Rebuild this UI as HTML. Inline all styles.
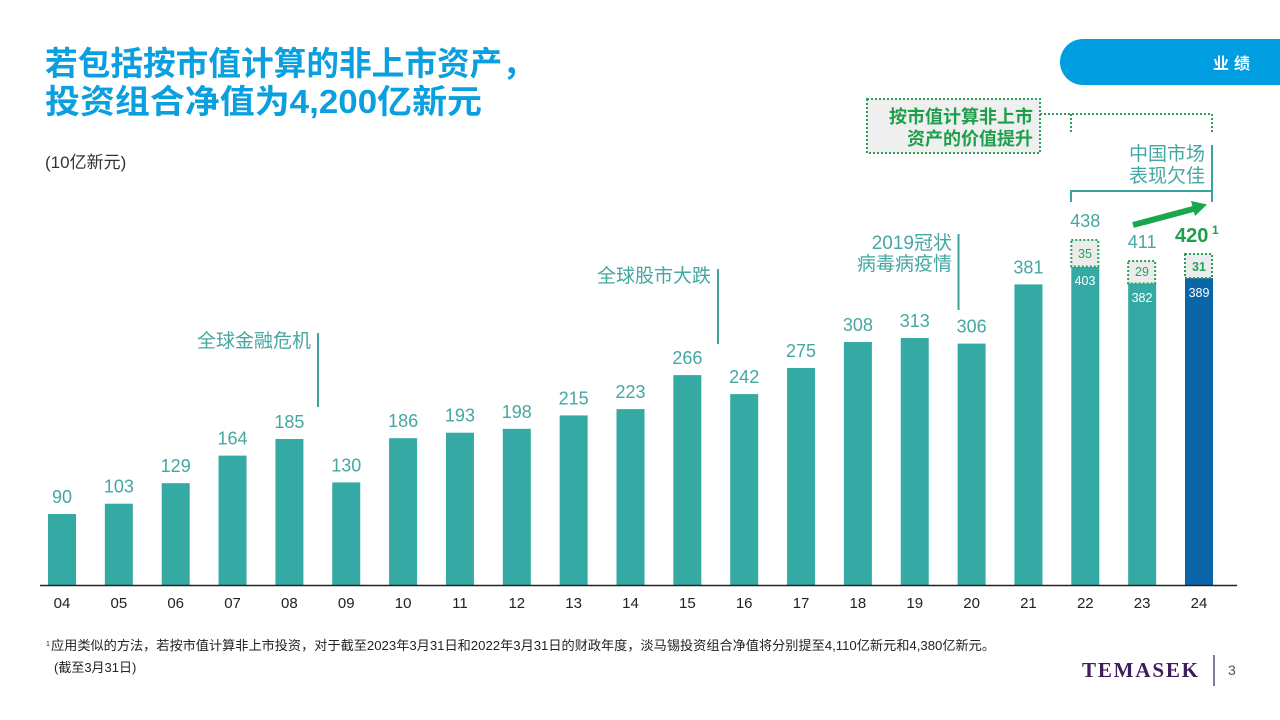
<!DOCTYPE html>
<html><head><meta charset="utf-8">
<style>
html,body{margin:0;padding:0;background:#fff;}
body{width:1280px;height:720px;overflow:hidden;position:relative;font-family:"Liberation Sans","Noto Sans CJK SC",sans-serif;}
svg{position:absolute;left:0;top:0;}
text{font-family:"Liberation Sans","Noto Sans CJK SC",sans-serif;}
.v{font-size:18px;fill:#45a7a1;text-anchor:middle;}
.yr{font-size:15px;fill:#222;text-anchor:middle;}
.an{font-size:19px;fill:#45a7a1;text-anchor:end;}
.in{font-size:12.5px;fill:#fff;text-anchor:middle;}
.bx{font-size:12.5px;fill:#2ea05c;text-anchor:middle;}
</style></head><body>
<svg width="1280" height="720" viewBox="0 0 1280 720" xmlns="http://www.w3.org/2000/svg">
<!-- title -->
<text x="45" y="75" font-size="33" font-weight="bold" fill="#0a9fdf" textLength="490" lengthAdjust="spacingAndGlyphs">若包括按市值计算的非上市资产，</text>
<text x="45" y="113" font-size="33" font-weight="bold" fill="#0a9fdf" textLength="437" lengthAdjust="spacingAndGlyphs">投资组合净值为4,200亿新元</text>
<text x="45" y="168" font-size="17" fill="#333">(10亿新元)</text>

<!-- badge -->
<path d="M1083,39 H1280 V85 H1083 A23,23 0 0 1 1083,39 Z" fill="#009de0"/>
<text x="1213" y="69" font-size="16" font-weight="bold" fill="#fff" textLength="37" lengthAdjust="spacing">业绩</text>

<!-- bars -->
<g fill="#35aaa5">
<rect x="48" y="514.0" width="28" height="71.0"/>
<rect x="104.85" y="503.7" width="28" height="81.3"/>
<rect x="161.7" y="483.2" width="28" height="101.8"/>
<rect x="218.55" y="455.6" width="28" height="129.4"/>
<rect x="275.4" y="439.0" width="28" height="146.0"/>
<rect x="332.25" y="482.4" width="28" height="102.6"/>
<rect x="389.1" y="438.2" width="28" height="146.8"/>
<rect x="445.95" y="432.7" width="28" height="152.3"/>
<rect x="502.8" y="428.8" width="28" height="156.2"/>
<rect x="559.65" y="415.4" width="28" height="169.6"/>
<rect x="616.5" y="409.1" width="28" height="175.9"/>
<rect x="673.35" y="375.1" width="28" height="209.9"/>
<rect x="730.2" y="394.1" width="28" height="190.9"/>
<rect x="787.05" y="368.0" width="28" height="217.0"/>
<rect x="843.9" y="342.0" width="28" height="243.0"/>
<rect x="900.75" y="338.0" width="28" height="247.0"/>
<rect x="957.6" y="343.6" width="28" height="241.4"/>
<rect x="1014.45" y="284.4" width="28" height="300.6"/>
<rect x="1071.3" y="267.0" width="28" height="318.0"/>
<rect x="1128.15" y="283.6" width="28" height="301.4"/>
</g>
<rect x="1185" y="278.1" width="28" height="306.9" fill="#0a66a8"/>

<!-- stacked dotted boxes -->
<g fill="#ececec" stroke="#2ea05c" stroke-width="2" stroke-dasharray="2,2">
<rect x="1071.3" y="240" width="27" height="26.5"/>
<rect x="1128.15" y="261" width="27" height="22.5"/>
<rect x="1185" y="254" width="27" height="24"/>
</g>
<text class="bx" x="1085" y="258">35</text>
<text class="bx" x="1142" y="276">29</text>
<text class="bx" x="1199" y="271" font-weight="bold">31</text>
<text class="in" x="1085" y="285">403</text>
<text class="in" x="1142" y="302">382</text>
<text class="in" x="1199" y="297">389</text>

<!-- axis -->
<line x1="40" y1="585.5" x2="1237" y2="585.5" stroke="#222" stroke-width="1.5"/>

<!-- value labels -->
<text class="v" x="62" y="503">90</text>
<text class="v" x="118.85" y="492.7">103</text>
<text class="v" x="175.7" y="472.2">129</text>
<text class="v" x="232.55" y="444.6">164</text>
<text class="v" x="289.4" y="428">185</text>
<text class="v" x="346.25" y="471.4">130</text>
<text class="v" x="403.1" y="427.2">186</text>
<text class="v" x="459.95" y="421.7">193</text>
<text class="v" x="516.8" y="417.8">198</text>
<text class="v" x="573.65" y="404.4">215</text>
<text class="v" x="630.5" y="398.1">223</text>
<text class="v" x="687.35" y="364.1">266</text>
<text class="v" x="744.2" y="383.1">242</text>
<text class="v" x="801.05" y="357">275</text>
<text class="v" x="857.9" y="331">308</text>
<text class="v" x="914.75" y="327">313</text>
<text class="v" x="971.6" y="332.6">306</text>
<text class="v" x="1028.45" y="273.4">381</text>
<text class="v" x="1085.3" y="227" fill="#2ea66c">438</text>
<text class="v" x="1142.15" y="248" fill="#2ea66c">411</text>
<text x="1175" y="242" font-size="20" font-weight="bold" fill="#1f9e4b">420</text>
<text x="1212" y="234" font-size="12" font-weight="bold" fill="#1f9e4b">1</text>

<!-- year labels -->
<text class="yr" x="62" y="608">04</text>
<text class="yr" x="118.85" y="608">05</text>
<text class="yr" x="175.7" y="608">06</text>
<text class="yr" x="232.55" y="608">07</text>
<text class="yr" x="289.4" y="608">08</text>
<text class="yr" x="346.25" y="608">09</text>
<text class="yr" x="403.1" y="608">10</text>
<text class="yr" x="459.95" y="608">11</text>
<text class="yr" x="516.8" y="608">12</text>
<text class="yr" x="573.65" y="608">13</text>
<text class="yr" x="630.5" y="608">14</text>
<text class="yr" x="687.35" y="608">15</text>
<text class="yr" x="744.2" y="608">16</text>
<text class="yr" x="801.05" y="608">17</text>
<text class="yr" x="857.9" y="608">18</text>
<text class="yr" x="914.75" y="608">19</text>
<text class="yr" x="971.6" y="608">20</text>
<text class="yr" x="1028.45" y="608">21</text>
<text class="yr" x="1085.3" y="608">22</text>
<text class="yr" x="1142.15" y="608">23</text>
<text class="yr" x="1199" y="608">24</text>

<!-- annotations -->
<g stroke="#3aa39d" stroke-width="2" fill="none">
<line x1="318" y1="333" x2="318" y2="407"/>
<line x1="718" y1="269" x2="718" y2="344"/>
<line x1="958.5" y1="234" x2="958.5" y2="310"/>
<line x1="1212" y1="145" x2="1212" y2="202"/>
<polyline points="1071,202 1071,191 1212,191"/>
</g>
<text class="an" x="311" y="347">全球金融危机</text>
<text class="an" x="711" y="282">全球股市大跌</text>
<text class="an" x="952" y="249">2019冠状</text>
<text class="an" x="952" y="270">病毒病疫情</text>
<text class="an" x="1205" y="160">中国市场</text>
<text class="an" x="1205" y="182">表现欠佳</text>

<!-- green dotted callout -->
<rect x="867" y="99" width="173" height="54" fill="#efefef" stroke="#2ea05c" stroke-width="2" stroke-dasharray="2,2"/>
<text x="1033" y="123" font-size="18" font-weight="bold" fill="#1f9e4b" text-anchor="end">按市值计算非上市</text>
<text x="1033" y="145" font-size="18" font-weight="bold" fill="#1f9e4b" text-anchor="end">资产的价值提升</text>
<g stroke="#2ea05c" stroke-width="2" stroke-dasharray="2,2" fill="none">
<line x1="1040" y1="114" x2="1212" y2="114"/>
<line x1="1071" y1="114" x2="1071" y2="134"/>
<line x1="1212" y1="114" x2="1212" y2="134"/>
</g>

<!-- arrow -->
<line x1="1133" y1="225" x2="1195" y2="208.5" stroke="#1aa64f" stroke-width="6"/>
<polygon points="1207,204.5 1191,201 1195,216" fill="#1aa64f"/>

<!-- footnote -->
<text x="46" y="646" font-size="7" fill="#222">1</text>
<text x="51" y="650" font-size="13" fill="#222" textLength="944" lengthAdjust="spacingAndGlyphs">应用类似的方法，若按市值计算非上市投资，对于截至2023年3月31日和2022年3月31日的财政年度，淡马锡投资组合净值将分别提至4,110亿新元和4,380亿新元。</text>
<text x="54" y="672" font-size="13" fill="#222">(截至3月31日)</text>

<!-- logo -->
<text x="1082" y="677" style="font-family:'Liberation Serif',serif;" font-size="21" font-weight="bold" fill="#3b1e5a" textLength="116" lengthAdjust="spacing">TEMASEK</text>
<line x1="1214" y1="655" x2="1214" y2="686" stroke="#3b1e5a" stroke-width="1.2"/>
<text x="1228" y="675" font-size="14" fill="#555">3</text>
</svg>
</body></html>
